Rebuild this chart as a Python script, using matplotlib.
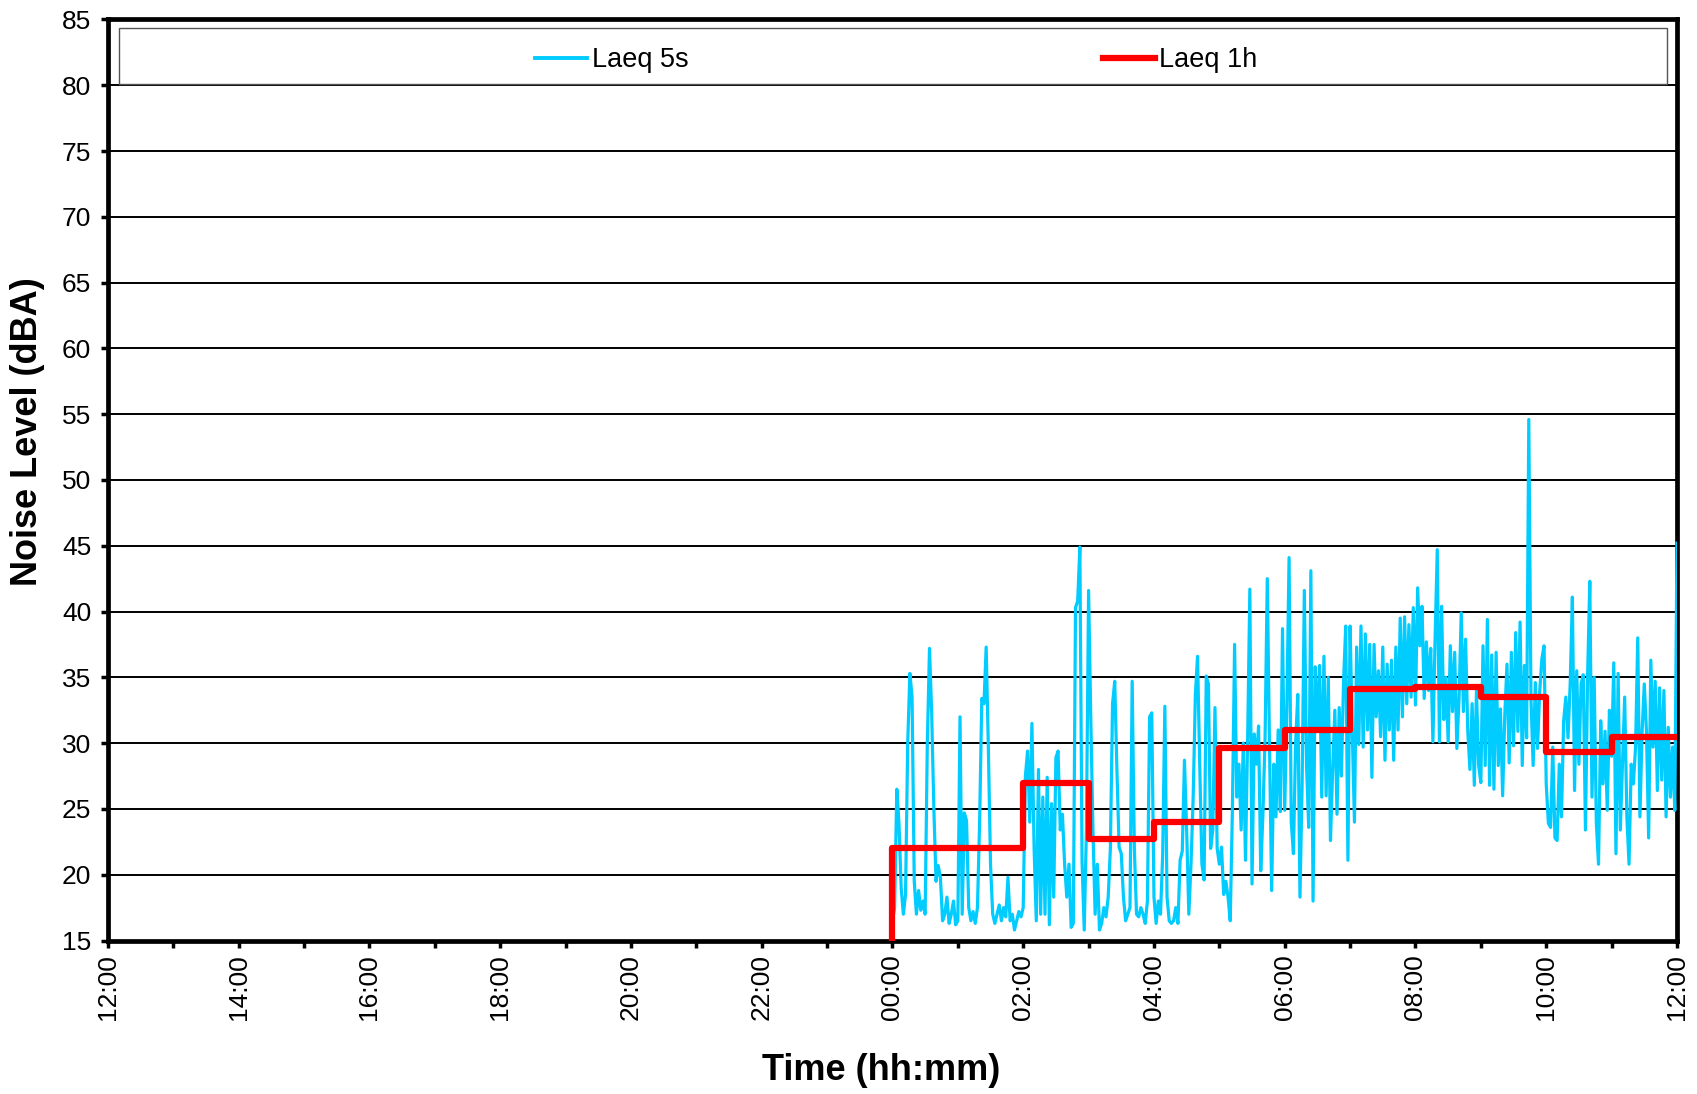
import numpy as np
import matplotlib.pyplot as plt
from matplotlib.patches import Rectangle

plt.rcParams['font.family'] = ['Liberation Sans', 'DejaVu Sans']

# Laeq 5s trace, every 2 minutes from 00:00 to 12:00 (dBA)
laeq_5s = [
    # 00:00 - 01:00
    16.5, 17.5, 26.5, 23.9, 19.0, 17.0, 18.5, 30.0, 35.3, 33.5, 19.5, 17.0, 18.8, 17.3, 18.0,
    17.0, 30.0, 37.2, 32.3, 25.0, 19.5, 20.7, 19.8, 16.5, 17.0, 18.3, 16.3, 17.0, 18.0, 16.2,
    # 01:00 - 02:00
    16.5, 32.0, 17.0, 24.7, 24.1, 17.5, 16.5, 17.2, 16.3, 17.5, 24.0, 33.4, 33.0, 37.3, 29.7,
    20.8, 17.0, 16.3, 17.0, 17.7, 16.5, 17.5, 16.8, 19.8, 16.5, 17.0, 15.8, 16.5, 17.2, 16.8,
    # 02:00 - 03:00
    17.5, 27.5, 29.4, 24.0, 31.5, 22.0, 16.5, 28.0, 17.0, 25.9, 17.0, 27.4, 16.2, 25.4, 18.3,
    28.9, 29.4, 23.4, 24.6, 20.8, 18.3, 20.8, 16.0, 16.3, 40.3, 40.8, 44.9, 21.0, 15.8, 23.4,
    # 03:00 - 04:00
    41.6, 32.0, 23.4, 17.0, 20.8, 15.8, 16.3, 17.5, 16.8, 18.3, 22.0, 33.0, 34.7, 28.0, 22.1,
    21.6, 18.3, 16.5, 17.0, 17.5, 34.7, 22.0, 17.0, 16.8, 17.5, 17.0, 16.3, 18.0, 32.0, 32.3,
    # 04:00 - 05:00
    18.3, 16.3, 18.0, 17.0, 21.5, 32.8, 18.3, 16.5, 16.3, 16.5, 17.5, 16.3, 21.1, 21.8, 28.7,
    23.4, 17.0, 20.8, 25.9, 33.7, 36.6, 28.4, 20.8, 19.6, 35.1, 34.5, 22.0, 23.4, 32.7, 22.0,
    # 05:00 - 06:00
    20.8, 22.1, 18.5, 19.5, 18.3, 16.5, 25.0, 37.5, 25.9, 28.4, 23.4, 30.0, 21.1, 30.5, 41.7,
    19.3, 30.7, 28.4, 31.3, 20.3, 24.6, 30.5, 42.5, 30.0, 18.8, 28.4, 24.4, 31.0, 24.8, 38.7,
    # 06:00 - 07:00
    24.9, 33.0, 44.1, 24.0, 21.6, 30.0, 33.7, 18.3, 27.0, 41.6, 28.4, 23.6, 43.1, 18.0, 35.8,
    30.9, 35.9, 25.9, 36.6, 26.0, 35.0, 22.6, 28.0, 32.5, 24.6, 32.7, 27.5, 34.7, 38.9, 21.1,
    # 07:00 - 08:00
    38.9, 30.9, 24.0, 37.3, 29.9, 38.9, 29.7, 38.3, 31.0, 37.5, 27.4, 37.5, 32.0, 35.5, 30.5,
    37.3, 28.7, 36.0, 31.0, 36.3, 28.7, 37.3, 31.0, 39.5, 32.0, 39.6, 33.0, 39.0, 33.5, 40.3,
    # 08:00 - 09:00
    32.9, 41.8, 37.4, 40.4, 33.4, 37.7, 34.0, 37.2, 30.1, 37.9, 44.7, 30.1, 40.4, 31.8, 35.0,
    30.1, 37.4, 32.4, 36.9, 29.6, 33.4, 39.9, 32.4, 37.9, 30.9, 28.0, 33.0, 26.8, 34.0, 28.3,
    # 09:00 - 10:00
    27.0, 37.4, 28.3, 39.4, 26.8, 36.7, 26.5, 36.9, 28.3, 32.6, 26.0, 32.2, 36.0, 28.5, 36.9,
    29.8, 38.4, 30.9, 39.2, 28.3, 35.9, 30.4, 54.6, 33.4, 28.3, 34.6, 29.6, 33.9, 36.4, 37.4,
    # 10:00 - 11:00
    26.9, 23.9, 23.6, 29.7, 22.8, 22.6, 28.4, 24.4, 31.7, 33.5, 30.4, 34.5, 41.1, 26.4, 35.5,
    28.4, 34.5, 35.2, 23.4, 35.2, 42.3, 25.9, 35.0, 23.9, 20.8, 31.7, 26.9, 30.9, 24.9, 32.5,
    # 11:00 - 12:00
    29.0, 36.1, 21.6, 35.3, 23.4, 28.4, 33.5, 24.4, 20.8, 28.4, 26.9, 29.7, 38.0, 24.4, 30.9,
    34.5, 30.9, 22.8, 36.3, 29.7, 34.7, 26.4, 34.2, 27.2, 34.0, 24.4, 31.2, 25.9, 29.7, 24.9,
    # 12:00
    45.2,
]

# Laeq 1h, one value per hour starting 00:00
laeq_1h = [22.0, 22.0, 27.0, 22.7, 24.0, 29.6, 31.0, 34.1, 34.3, 33.5, 29.3, 30.5]

tick_labels = ['12:00', '14:00', '16:00', '18:00', '20:00', '22:00', '00:00',
               '02:00', '04:00', '06:00', '08:00', '10:00', '12:00']

# x axis is hours since 12:00 of the first day; data starts at midnight (x=12)
t5 = 12 + np.arange(len(laeq_5s)) * 2 / 60
t1h = 12 + np.arange(len(laeq_1h) + 1)

fig = plt.figure(figsize=(16.97, 10.94), dpi=100)
ax = fig.add_axes([0.0636, 0.1403, 0.9246, 0.8419])

ax.plot(t5, laeq_5s, color='#00CCFF', lw=2.3, label='Laeq 5s', zorder=3)
ax.step(np.r_[t1h[0], t1h], np.r_[15, laeq_1h, laeq_1h[-1]], where='post',
        color='#FF0000', lw=4.5, label='Laeq 1h', zorder=4)

ax.set_xlim(0, 24)
ax.set_ylim(15, 85)
ax.set_yticks(np.arange(15, 86, 5))
ax.set_xticks(np.arange(0, 25, 2))
ax.set_xticks(np.arange(1, 24, 2), minor=True)
ax.set_xticklabels(tick_labels, rotation=90)

ax.yaxis.grid(True, color='black', lw=1.4)
ax.set_axisbelow(True)
for s in ax.spines.values():
    s.set_linewidth(3.4)
    s.set_color('black')

ax.tick_params(axis='both', which='both', direction='out', width=2.5, length=5,
               labelsize=19, colors='black')
ax.tick_params(axis='y', pad=7)
ax.tick_params(axis='x', pad=5)

ax.set_ylabel('Noise Level (dBA)', fontsize=26, fontweight='bold')
ax.yaxis.set_label_coords(-0.040, 0.553)
ax.set_xlabel('Time (hh:mm)', fontsize=26, fontweight='bold')
ax.xaxis.set_label_coords(0.493, -0.122)

# legend box across the top band of the plot
ax.add_patch(Rectangle((0.007, 0.930), 0.9866, 0.0605, transform=ax.transAxes,
                       facecolor='white', edgecolor='#555555', lw=1.0, zorder=5))
leg = ax.legend(loc='center', bbox_to_anchor=(0.5025, 0.956), ncol=2, frameon=False,
                fontsize=19.5, handlelength=1.92, handletextpad=0.16, columnspacing=15.3)
leg.get_lines()[0].set_linewidth(2.8)

fig.savefig('out.png', dpi=100)
